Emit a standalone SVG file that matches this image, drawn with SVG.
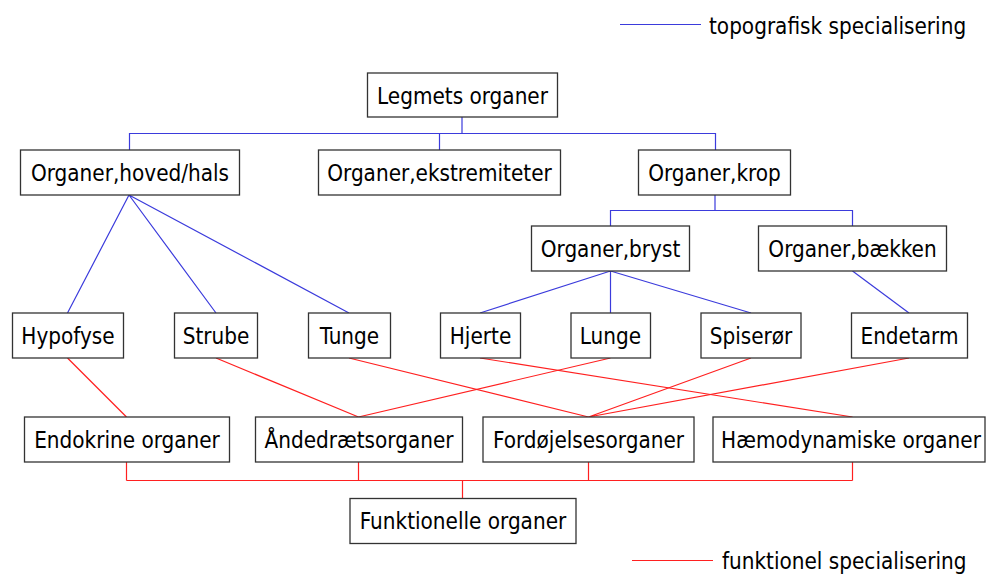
<svg xmlns="http://www.w3.org/2000/svg" width="986" height="574" viewBox="0 0 986 574">
  <style>
    .box rect { fill: #ffffff; stroke: #333333; stroke-width: 1.3; }
    text { font-family: "DejaVu Sans Condensed", "DejaVu Sans", sans-serif; font-stretch: condensed; font-size: 22.3px; fill: #000000; }
    .box text { text-anchor: middle; }
    .topo { stroke: #3b3bdc; stroke-width: 1.2; fill: none; }
    .func { stroke: #ff2020; stroke-width: 1.2; fill: none; }
  </style>
  <rect x="0" y="0" width="986" height="574" fill="#ffffff"/>

  <!-- legend -->
  <g id="legend">
    <line class="topo" x1="620" y1="24.5" x2="701" y2="24.5"/>
    <text x="709" y="34">topografisk specialisering</text>
    <line class="func" x1="632" y1="560.5" x2="713" y2="560.5"/>
    <text x="722" y="569">funktionel specialisering</text>
  </g>

  <!-- connectors -->
  <g id="connectors">
    <!-- topographic tree -->
    <path class="topo" d="M462 117V133.5M129.5 150V133.5H715.5V150M439.5 133.5V150"/>
    <path class="topo" d="M715 195V210.5M610.5 226V210.5H852.5V226"/>
    <path class="topo" d="M129 195L67.5 313M129 195L216 313M129 195L349 313"/>
    <path class="topo" d="M610.5 271L480 313M610.5 271V313M610.5 271L751 313"/>
    <path class="topo" d="M852.5 271L909 313"/>
    <!-- functional grouping -->
    <path class="func" d="M67.5 358L126.5 417"/>
    <path class="func" d="M216 358L358.5 417M610.5 358L358.5 417"/>
    <path class="func" d="M349 358L588.5 417M751 358L588.5 417M909 358L588.5 417"/>
    <path class="func" d="M480 358L852.5 417"/>
    <path class="func" d="M126.5 462V480.5M358.5 462V480.5M588.5 462V480.5M852.5 462V480.5M126.5 480.5H852.5M462.5 480.5V498"/>
  </g>

  <!-- nodes -->
  <g id="legmets" class="box"><rect x="367.5" y="73" width="190" height="44"/><text x="462.5" y="104">Legmets organer</text></g>

  <g id="hoved-hals" class="box"><rect x="20.5" y="150" width="219" height="45"/><text x="130" y="181">Organer,hoved/hals</text></g>
  <g id="ekstremiteter" class="box"><rect x="318.5" y="150" width="242" height="45"/><text x="439.5" y="181">Organer,ekstremiteter</text></g>
  <g id="krop" class="box"><rect x="638.5" y="150" width="152" height="45"/><text x="714.5" y="181">Organer,krop</text></g>

  <g id="bryst" class="box"><rect x="531.5" y="226" width="158" height="45"/><text x="610.5" y="257">Organer,bryst</text></g>
  <g id="baekken" class="box"><rect x="758.5" y="226" width="188" height="45"/><text x="852.5" y="257">Organer,bækken</text></g>

  <g id="hypofyse" class="box"><rect x="12.5" y="313" width="111" height="45"/><text x="68" y="344">Hypofyse</text></g>
  <g id="strube" class="box"><rect x="174.5" y="313" width="83" height="45"/><text x="216" y="344">Strube</text></g>
  <g id="tunge" class="box"><rect x="308.5" y="313" width="82" height="45"/><text x="349.5" y="344">Tunge</text></g>
  <g id="hjerte" class="box"><rect x="440.5" y="313" width="80" height="45"/><text x="480.5" y="344">Hjerte</text></g>
  <g id="lunge" class="box"><rect x="571" y="313" width="79.5" height="45"/><text x="610.5" y="344">Lunge</text></g>
  <g id="spiseroer" class="box"><rect x="701" y="313" width="100" height="45"/><text x="751" y="344">Spiserør</text></g>
  <g id="endetarm" class="box"><rect x="851.5" y="313" width="116" height="45"/><text x="909.5" y="344">Endetarm</text></g>

  <g id="endokrine" class="box"><rect x="24.5" y="417" width="205" height="45"/><text x="127" y="448">Endokrine organer</text></g>
  <g id="aandedraets" class="box"><rect x="255.5" y="417" width="207" height="45"/><text x="359" y="448">Åndedrætsorganer</text></g>
  <g id="fordoejelses" class="box"><rect x="483" y="417" width="211" height="45"/><text x="588.5" y="448">Fordøjelsesorganer</text></g>
  <g id="haemodynamiske" class="box"><rect x="713" y="417" width="272" height="45"/><text x="851" y="448">Hæmodynamiske organer</text></g>

  <g id="funktionelle" class="box"><rect x="350" y="498.5" width="226" height="45"/><text x="463" y="529">Funktionelle organer</text></g>
</svg>
